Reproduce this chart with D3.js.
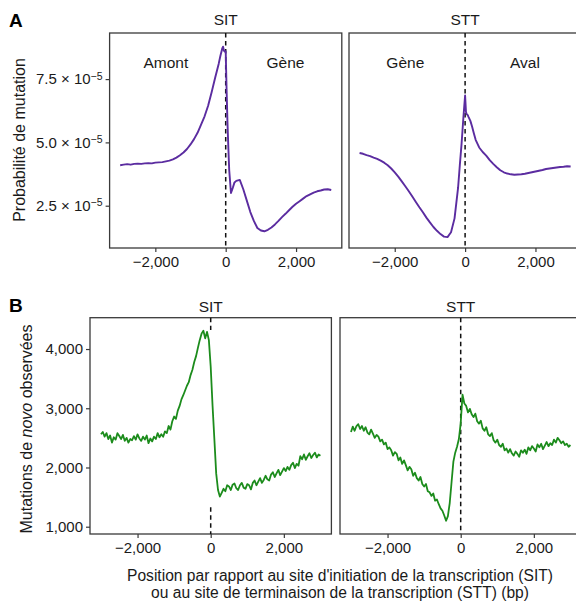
<!DOCTYPE html>
<html><head><meta charset="utf-8">
<script src="https://cdn.jsdelivr.net/npm/d3@7"></script>
<style>body{margin:0;background:#fff}svg{display:block;font-family:"Liberation Sans",Arial,Helvetica,sans-serif}</style>
</head><body><svg id="c" width="576" height="604"></svg>
<script>
// ---------- DATA ----------
const panelTitles = ["SIT", "STT"];
const regionLabels = [["Amont", "Gène"], ["Gène", "Aval"]];
const regionLabelPos = [-1700, 1700];
const xTicks = [-2000, 0, 2000];
const yTicksA = [2.5, 5.0, 7.5];          // ×10^-5
const yTicksB = [1000, 2000, 3000, 4000];

// Panel A: mutation probability (×10^-5)
const posA = [-3000,-2900,-2800,-2700,-2600,-2500,-2400,-2300,-2200,-2100,-2000,-1900,-1800,-1700,-1600,-1500,-1400,-1300,-1200,-1100,-1000,-900,-800,-700,-600,-500,-400,-300,-200,-150,-100,-75,-50,-25,0,25,50,75,100,150,200,250,300,400,500,600,700,800,900,1000,1100,1200,1300,1400,1500,1600,1700,1800,1900,2000,2100,2200,2300,2400,2500,2600,2700,2800,2900,3000];
const probSIT = [4.10,4.12,4.14,4.12,4.15,4.16,4.15,4.17,4.18,4.17,4.20,4.21,4.22,4.25,4.28,4.33,4.40,4.49,4.60,4.74,4.92,5.13,5.38,5.70,6.03,6.45,6.98,7.55,8.10,8.42,8.70,8.78,8.62,8.58,8.60,7.10,5.80,4.80,3.90,3.00,3.20,3.42,3.48,3.52,3.15,2.70,2.25,1.90,1.62,1.52,1.49,1.55,1.64,1.76,1.90,2.05,2.18,2.32,2.46,2.58,2.68,2.78,2.88,2.95,3.02,3.07,3.10,3.14,3.15,3.12];
const probSTT = [4.58,4.55,4.50,4.46,4.40,4.35,4.28,4.20,4.10,3.97,3.82,3.65,3.46,3.27,3.07,2.86,2.65,2.44,2.24,2.03,1.84,1.66,1.51,1.38,1.28,1.26,1.45,2.00,3.20,4.10,4.95,5.45,5.95,6.40,6.85,6.20,6.10,6.08,6.00,5.85,5.62,5.35,5.10,4.80,4.62,4.48,4.30,4.15,4.02,3.90,3.82,3.77,3.74,3.72,3.73,3.74,3.76,3.79,3.82,3.85,3.88,3.91,3.95,3.97,3.99,4.01,4.03,4.04,4.06,4.05];

// Panel B: observed de novo mutations
const posB = [-3000,-2950,-2900,-2850,-2800,-2750,-2700,-2650,-2600,-2550,-2500,-2450,-2400,-2350,-2300,-2250,-2200,-2150,-2100,-2050,-2000,-1950,-1900,-1850,-1800,-1750,-1700,-1650,-1600,-1550,-1500,-1450,-1400,-1350,-1300,-1250,-1200,-1150,-1100,-1050,-1000,-950,-900,-850,-800,-750,-700,-650,-600,-550,-500,-450,-400,-350,-300,-250,-200,-150,-100,-50,0,50,100,150,200,250,300,350,400,450,500,550,600,650,700,750,800,850,900,950,1000,1050,1100,1150,1200,1250,1300,1350,1400,1450,1500,1550,1600,1650,1700,1750,1800,1850,1900,1950,2000,2050,2100,2150,2200,2250,2300,2350,2400,2450,2500,2550,2600,2650,2700,2750,2800,2850,2900,2950,3000];
const obsSIT = [2560,2600,2520,2580,2480,2540,2420,2510,2470,2580,2530,2480,2550,2450,2500,2420,2480,2460,2530,2470,2560,2490,2450,2520,2470,2540,2410,2490,2440,2520,2480,2580,2510,2560,2520,2610,2580,2700,2640,2780,2860,2820,2960,3040,3150,3220,3300,3380,3440,3560,3650,3780,3880,4020,4150,4260,4310,4180,4290,4150,3700,3050,2480,1900,1620,1510,
  1570,1640,1600,1700,1680,1620,1710,1730,1650,1620,1700,1740,1660,1640,1720,1700,1630,1740,1780,1700,1760,1820,1740,1790,1860,1800,1780,1880,1920,1840,1900,1960,1870,1930,1990,1940,2010,1960,2040,2080,1990,2060,2030,2190,2140,2220,2130,2190,2240,2160,2210,2250,2170,2220,2200];
const obsSTT = [2600,2690,2620,2700,2730,2650,2700,2620,2680,2590,2560,2640,2570,2500,2550,2520,2440,2470,2390,2420,2310,2340,2290,2200,2260,2230,2120,2170,2060,2120,2040,1950,2010,1970,1860,1910,1820,1780,1840,1720,1680,1720,1600,1580,1520,1560,1440,1460,1380,1310,1270,1190,1100,
  1180,1400,1750,2100,2250,2350,2480,2750,
  3230,3080,3040,2930,2990,2900,2850,2910,2780,2740,2790,2660,2620,2680,2560,2530,2580,2460,2420,2470,2380,2350,2400,2290,2320,2250,2310,2240,2200,2270,2230,2180,2290,2250,2300,2230,2340,2290,2360,2320,2270,2390,2340,2400,2310,2370,2430,2360,2410,2380,2470,2420,2500,2460,2410,2440,2380,2400,2350,2380];

// ---------- DRAW ----------
const svg = d3.select("#c");
const FONT_TICK = 15, FONT_TITLE = 16, FONT_STRIP = 15.5;
const frameCol = "#3a3a3a", textCol = "#1a1a1a";
const dom = [-3300, 3300];

const layout = {
  A: {top: 33, bottom: 248, panels: [[109.6, 341.8], [349, 581.2]], y: d3.scaleLinear([0.83, 9.32], [248, 33])},
  B: {top: 317.7, bottom: 534, panels: [[90, 331.4], [340, 581.4]], y: d3.scaleLinear([877, 4529], [534, 317.7])}
};

function panel(L, i, pos, vals, color, lw, yticks, yfmt, dashSegs) {
  const [x0, x1] = L.panels[i];
  const x = d3.scaleLinear(dom, [x0, x1]);
  const y = L.y;
  const g = svg.append("g");
  g.append("rect").attr("x", x0).attr("y", L.top).attr("width", x1 - x0).attr("height", L.bottom - L.top)
    .attr("fill", "none").attr("stroke", frameCol).attr("stroke-width", 1.3);
  const ax = g.append("g").attr("transform", `translate(0,${L.bottom})`)
    .call(d3.axisBottom(x).tickValues(xTicks).tickFormat(d3.format(",")).tickSize(4).tickSizeOuter(0).tickPadding(4));
  ax.select(".domain").remove();
  ax.selectAll("line").attr("stroke", frameCol).attr("stroke-width", 1.2);
  ax.selectAll("text").attr("font-size", FONT_TICK).attr("fill", textCol).attr("font-family", null);
  if (i === 0) {
    const ay = g.append("g").attr("transform", `translate(${x0},0)`)
      .call(d3.axisLeft(y).tickValues(yticks).tickSize(4).tickSizeOuter(0).tickPadding(3).tickFormat(yfmt.fmt));
    ay.select(".domain").remove();
    ay.selectAll("line").attr("stroke", frameCol).attr("stroke-width", 1.2);
    ay.selectAll("text").attr("font-size", FONT_TICK).attr("fill", textCol).attr("font-family", null);
    if (yfmt.sci) {
      ay.selectAll("text").each(function(d) {
        const t = d3.select(this).text("");
        t.append("tspan").text(d3.format(".1f")(d) + " × 10");
        t.append("tspan").attr("dy", "-0.45em").attr("font-size", 10.5).text("−5");
      });
    }
  }
  dashSegs.forEach(([a, b]) => {
    g.append("line").attr("x1", x(0)).attr("x2", x(0)).attr("y1", y(a)).attr("y2", y(b))
      .attr("stroke", "#111").attr("stroke-width", 1.5).attr("stroke-dasharray", "4.5,3.5");
  });
  const data = pos.map((p, k) => [p, vals[k]]);
  g.append("path").datum(data)
    .attr("d", d3.line().x(d => x(d[0])).y(d => y(d[1])))
    .attr("fill", "none").attr("stroke", color).attr("stroke-width", lw).attr("stroke-linejoin", "round");
  return {x, y, x0, x1};
}

const sciFmt = {sci: true, fmt: d3.format(".1f")};
const pA1 = panel(layout.A, 0, posA, probSIT, "#5b2ca0", 1.9, yTicksA, sciFmt, [[9.32, 0.83]]);
const pA2 = panel(layout.A, 1, posA, probSTT, "#5b2ca0", 1.9, yTicksA, sciFmt, [[9.32, 0.83]]);
const intFmt = {sci: false, fmt: d3.format(",")};
const pB1 = panel(layout.B, 0, posB, obsSIT, "#1c8c1c", 1.8, yTicksB, intFmt, [[4529, 4320], [1330, 877]]);
const pB2 = panel(layout.B, 1, posB, obsSTT, "#1c8c1c", 1.8, yTicksB, intFmt, [[4529, 877]]);

[[pA1, 25], [pA2, 25], [pB1, 311.5], [pB2, 311.5]].forEach(([p, yy], k) => {
  svg.append("text").attr("x", p.x(0)).attr("y", yy).attr("text-anchor", "middle")
    .attr("font-size", FONT_STRIP).attr("fill", textCol).text(panelTitles[k % 2]);
});
[pA1, pA2].forEach((p, k) => {
  regionLabels[k].forEach((lab, j) => {
    svg.append("text").attr("x", p.x(regionLabelPos[j])).attr("y", 68).attr("text-anchor", "middle")
      .attr("font-size", FONT_STRIP).attr("fill", textCol).text(lab);
  });
});
svg.append("text").attr("x", 9).attr("y", 27).attr("font-size", 19).attr("font-weight", "bold").attr("fill", "#000").text("A");
svg.append("text").attr("x", 9).attr("y", 312).attr("font-size", 19).attr("font-weight", "bold").attr("fill", "#000").text("B");
svg.append("text").attr("transform", "translate(25,140) rotate(-90)").attr("text-anchor", "middle")
  .attr("font-size", FONT_TITLE).attr("fill", textCol).text("Probabilité de mutation");
const yb = svg.append("text").attr("transform", "translate(32,429) rotate(-90)").attr("text-anchor", "middle")
  .attr("font-size", FONT_TITLE).attr("fill", textCol);
yb.append("tspan").text("Mutations de ");
yb.append("tspan").attr("font-style", "italic").text("novo");
yb.append("tspan").text(" observées");
svg.append("text").attr("x", 340).attr("y", 580.5).attr("text-anchor", "middle").attr("font-size", 15.6).attr("fill", textCol)
  .text("Position par rapport au site d'initiation de la transcription (SIT)");
svg.append("text").attr("x", 340).attr("y", 598.2).attr("text-anchor", "middle").attr("font-size", 15.6).attr("fill", textCol)
  .text("ou au site de terminaison de la transcription (STT) (bp)");
</script></body></html>
